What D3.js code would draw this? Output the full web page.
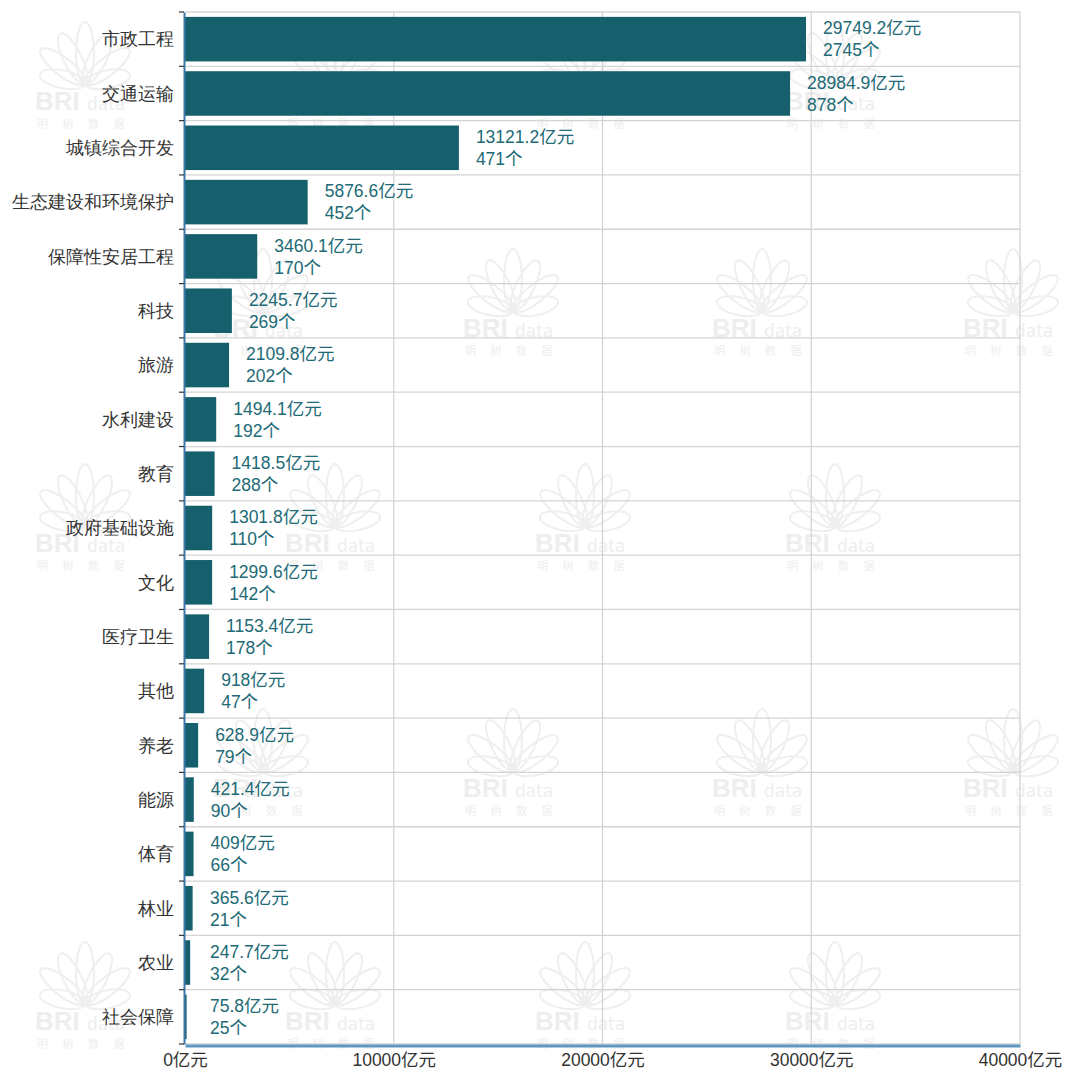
<!DOCTYPE html>
<html><head><meta charset="utf-8">
<script src="https://cdn.jsdelivr.net/npm/d3@7"></script>
<style>
html,body{margin:0;padding:0;background:#fff;}
svg{display:block;font-family:"Noto Sans CJK SC","Microsoft YaHei",sans-serif;}
</style></head>
<body>
<svg id="chart" width="1068" height="1076"></svg>
<script>
const categories = ["市政工程","交通运输","城镇综合开发","生态建设和环境保护","保障性安居工程","科技","旅游","水利建设","教育","政府基础设施","文化","医疗卫生","其他","养老","能源","体育","林业","农业","社会保障"];
const amounts = [29749.2,28984.9,13121.2,5876.6,3460.1,2245.7,2109.8,1494.1,1418.5,1301.8,1299.6,1153.4,918,628.9,421.4,409,365.6,247.7,75.8];
const counts = [2745,878,471,452,170,269,202,192,288,110,142,178,47,79,90,66,21,32,25];
const xTicks = [0,10000,20000,30000,40000];
const unitAmount = "亿元";
const unitCount = "个";
const watermarkText = ["BRI","data","明 树 数 据"];

const svg = d3.select("#chart");
const numFont = "\"Liberation Sans\",Arial,\"Noto Sans CJK SC\",sans-serif";
const m = {left:185, right:1020, top:12, bottom:1044};
const x = d3.scaleLinear().domain([0,40000]).range([m.left, m.right]);
const y = d3.scaleBand().domain(categories).range([m.top, m.bottom]).paddingInner(0.18).paddingOuter(0.09);

// watermark (faint)
const wm = svg.append("g");
const wmPos = [];
[35,285,535,785].forEach(lx=>[110,552,1030].forEach(by=>wmPos.push([lx,by])));
[213,463,712,963].forEach(lx=>[337,797].forEach(by=>wmPos.push([lx,by])));
wmPos.forEach(([lx,by])=>{
  const g = wm.append("g").attr("transform",`translate(${lx},${by})`);
  const leaves = g.append("g").attr("transform","translate(50,-26)").attr("fill","none").attr("stroke","#efefef").attr("stroke-width",2);
  [-78,-52,-26,0,26,52,78].forEach((a,k)=>{
    const r = (k===3)?62:(Math.abs(a)>60?46:56);
    leaves.append("ellipse").attr("cx",0).attr("cy",-r/2).attr("rx",9).attr("ry",r/2)
      .attr("transform",`rotate(${a})`);
  });
  g.append("text").attr("x",0).attr("y",0).attr("font-size",26).attr("font-weight","bold")
    .attr("font-family","Liberation Sans, sans-serif").attr("fill","#eeeeee").text(watermarkText[0]);
  g.append("text").attr("x",52).attr("y",0).attr("font-size",17)
    .attr("font-family","DejaVu Sans, sans-serif").attr("fill","#eeeeee").text(watermarkText[1]);
  g.append("text").attr("x",2).attr("y",18).attr("font-size",11).attr("fill","#eeeeee").attr("letter-spacing","6").text(watermarkText[2]);
});

// horizontal gridlines at band boundaries
const step = y.step();
const bounds = d3.range(categories.length+1).map(i=>m.top + i*step);
svg.append("g").selectAll("line").data(bounds).join("line")
  .attr("x1",m.left).attr("x2",m.right).attr("y1",d=>d).attr("y2",d=>d)
  .attr("stroke","#d4d4d4").attr("stroke-width",1.3);

// vertical gridlines
svg.append("g").selectAll("line").data(xTicks.slice(1)).join("line")
  .attr("x1",d=>x(d)).attr("x2",d=>x(d)).attr("y1",m.top).attr("y2",m.bottom)
  .attr("stroke","#d4d4d4").attr("stroke-width",1.3);

// bars
svg.append("g").selectAll("rect").data(amounts).join("rect")
  .attr("x",x(0)).attr("y",(d,i)=>y(categories[i]))
  .attr("width",d=>Math.max(1.5,x(d)-x(0))).attr("height",y.bandwidth())
  .attr("fill","#165f6d");

// value labels
const lab = svg.append("g").attr("fill","#216a76").attr("font-size",17.5).attr("font-family",numFont);
amounts.forEach((v,i)=>{
  const cy = y(categories[i]) + y.bandwidth()/2;
  const lx = Math.max(x(v)+17, x(0)+25);
  lab.append("text").attr("x",lx).attr("y",cy-11).attr("dy","0.36em").text(v+unitAmount);
  lab.append("text").attr("x",lx).attr("y",cy+11).attr("dy","0.36em").text(counts[i]+unitCount);
});

// left axis
const yAxis = d3.axisLeft(y).tickSize(5).tickSizeOuter(0).tickFormat(d=>d);
const ya = svg.append("g").attr("transform",`translate(${m.left-1},0)`).call(yAxis);
ya.select(".domain").attr("stroke","#3b78a8").attr("stroke-width",2);
ya.selectAll(".tick").remove();
ya.selectAll("line.bt").data(bounds).join("line").attr("class","bt")
  .attr("x1",-5).attr("x2",0).attr("y1",d=>d).attr("y2",d=>d).attr("stroke","#333").attr("stroke-width",1.2);
ya.selectAll("text.cl").data(categories).join("text").attr("class","cl")
  .attr("x",-10).attr("y",d=>y(d)+y.bandwidth()/2).attr("dy","0.36em")
  .attr("text-anchor","end").attr("font-size",17.5).attr("fill","#333").text(d=>d);

// bottom axis
const xAxis = d3.axisBottom(x).tickValues(xTicks).tickSize(0).tickFormat(d=>d+unitAmount);
const xa = svg.append("g").attr("transform",`translate(0,${m.bottom+1.5})`).call(xAxis);
xa.select(".domain").attr("stroke","#5d97c4").attr("stroke-width",3);
xa.selectAll("text").attr("font-size",17.5).attr("fill","#333").attr("dy","1.0em").attr("font-family",numFont);
</script>
</body></html>
